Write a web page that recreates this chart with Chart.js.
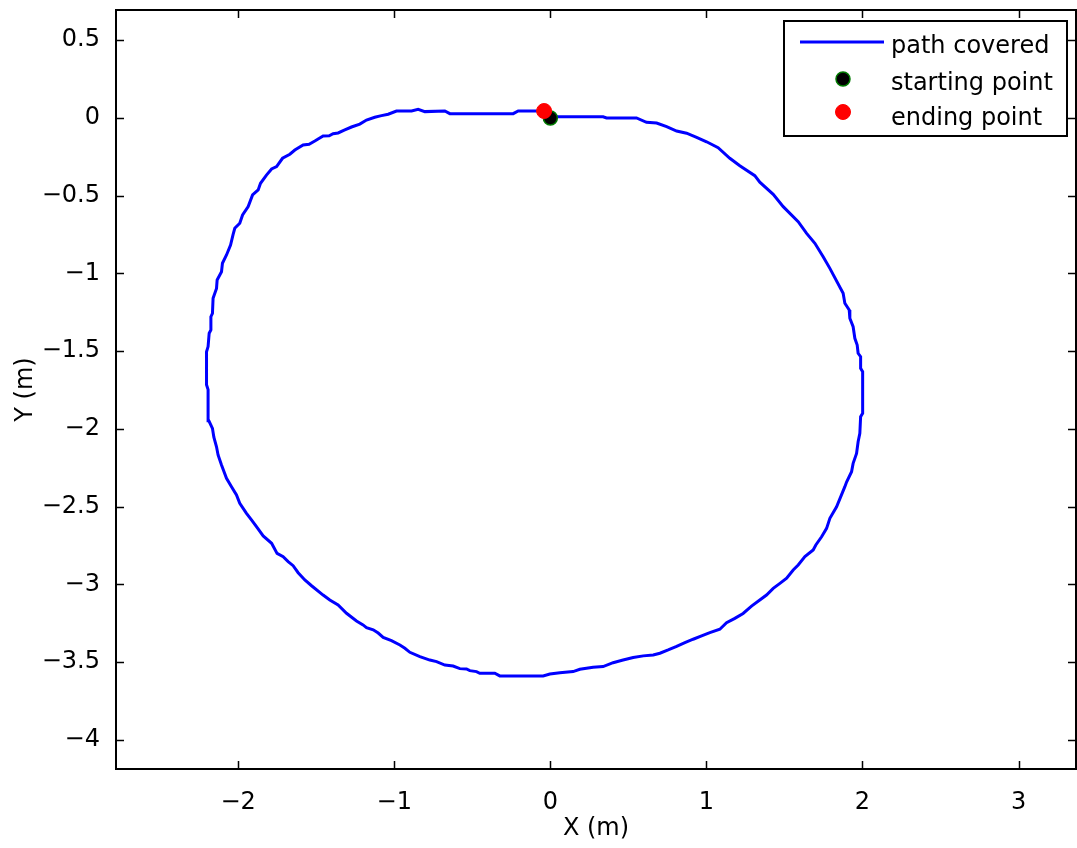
<!DOCTYPE html>
<html>
<head>
<meta charset="utf-8">
<title>path covered</title>
<script src="https://cdn.jsdelivr.net/npm/chart.js@4.4.1/dist/chart.umd.min.js"></script>
<style>
  html, body { margin: 0; padding: 0; background: #fff; overflow: hidden; }
  #wrap { width: 1077px; height: 848px; }
  canvas { display: block; }
</style>
</head>
<body>
<div id="wrap"><canvas id="c" width="1077" height="848" style="width:1077px;height:848px"></canvas></div>
<script>
// Robot trajectory (metres), in travel order from start to end
const pathX = [0, 0.01, 0.338, 0.36, 0.552, 0.616, 0.681, 0.745, 0.809, 0.873,
  0.937, 1.001, 1.075, 1.15, 1.214, 1.31, 1.342, 1.428, 1.492, 1.588,
  1.642, 1.695, 1.748, 1.791, 1.876, 1.887, 1.915, 1.919, 1.94, 1.951,
  1.966, 1.972, 1.988, 1.988, 2.001, 2.001, 1.988, 1.983, 1.972, 1.962,
  1.94, 1.93, 1.898, 1.887, 1.834, 1.791, 1.77, 1.738, 1.701, 1.684,
  1.631, 1.588, 1.556, 1.514, 1.471, 1.428, 1.385, 1.342, 1.289, 1.235,
  1.182, 1.129, 1.086, 1.022, 0.969, 0.915, 0.862, 0.809, 0.755, 0.702,
  0.659, 0.595, 0.531, 0.466, 0.402, 0.338, 0.274, 0.189, 0.146, 0.061,
  -0.003, -0.046, -0.324, -0.356, -0.452, -0.473, -0.516, -0.537, -0.58, -0.623,
  -0.676, -0.729, -0.772, -0.836, -0.9, -0.932, -0.964, -1.018, -1.071, -1.103,
  -1.135, -1.178, -1.2, -1.242, -1.306, -1.36, -1.413, -1.456, -1.53, -1.573,
  -1.616, -1.648, -1.68, -1.712, -1.751, -1.786, -1.84, -1.883, -1.915, -1.947,
  -1.99, -2.011, -2.043, -2.075, -2.107, -2.129, -2.139, -2.156, -2.165, -2.188,
  -2.193, -2.203, -2.203, -2.193, -2.186, -2.175, -2.175, -2.165, -2.161, -2.139,
  -2.135, -2.107, -2.101, -2.075, -2.049, -2.033, -2.022, -1.99, -1.972, -1.936,
  -1.908, -1.872, -1.857, -1.819, -1.786, -1.754, -1.716, -1.669, -1.637, -1.584,
  -1.546, -1.509, -1.456, -1.417, -1.392, -1.36, -1.317, -1.274, -1.221, -1.178,
  -1.125, -1.082, -1.039, -0.986, -0.889, -0.847, -0.804, -0.676, -0.644, -0.238,
  -0.206, -0.04];
const pathY = [0, 0.008, 0.008, 0, 0, -0.028, -0.032, -0.056, -0.084, -0.098,
  -0.124, -0.153, -0.191, -0.259, -0.307, -0.371, -0.413, -0.491, -0.57, -0.667,
  -0.742, -0.806, -0.892, -0.967, -1.127, -1.191, -1.235, -1.288, -1.342, -1.417,
  -1.46, -1.513, -1.535, -1.61, -1.632, -1.899, -1.921, -2.028, -2.082, -2.157,
  -2.221, -2.275, -2.341, -2.371, -2.5, -2.574, -2.639, -2.693, -2.746, -2.778,
  -2.821, -2.875, -2.907, -2.96, -2.993, -3.025, -3.068, -3.1, -3.139, -3.186,
  -3.218, -3.246, -3.288, -3.31, -3.331, -3.352, -3.374, -3.398, -3.421, -3.442,
  -3.453, -3.459, -3.47, -3.486, -3.503, -3.528, -3.532, -3.545, -3.56, -3.567,
  -3.576, -3.588, -3.588, -3.571, -3.571, -3.56, -3.554, -3.543, -3.541, -3.524,
  -3.518, -3.496, -3.486, -3.464, -3.436, -3.41, -3.389, -3.361, -3.34, -3.312,
  -3.291, -3.277, -3.26, -3.235, -3.185, -3.132, -3.1, -3.068, -3.008, -2.971,
  -2.924, -2.879, -2.853, -2.821, -2.8, -2.735, -2.688, -2.628, -2.585, -2.542,
  -2.478, -2.424, -2.371, -2.317, -2.231, -2.167, -2.114, -2.053, -1.996, -1.947,
  -1.747, -1.715, -1.503, -1.47, -1.384, -1.363, -1.278, -1.256, -1.16, -1.096,
  -1.042, -0.989, -0.934, -0.881, -0.817, -0.75, -0.709, -0.677, -0.624, -0.57,
  -0.495, -0.463, -0.42, -0.367, -0.328, -0.313, -0.259, -0.233, -0.206, -0.174,
  -0.169, -0.148, -0.116, -0.114, -0.101, -0.096, -0.077, -0.058, -0.039, -0.013,
  0.005, 0.015, 0.024, 0.045, 0.045, 0.056, 0.041, 0.045, 0.028, 0.028,
  0.045, 0.045];

const startPoint = [0, 0];
const endPoint = [-0.04, 0.045];

const seriesLabels = ['path covered', 'starting point', 'ending point'];
const xTicks = [-2, -1, 0, 1, 2, 3];
const yTicks = [0.5, 0, -0.5, -1, -1.5, -2, -2.5, -3, -3.5, -4];
const xLimits = [-2.783, 3.368];
const yLimits = [-4.1865, 0.6945];
const xTitle = 'X (m)';
const yTitle = 'Y (m)';

const FONT = "'DejaVu Sans', 'Liberation Sans', sans-serif";
Chart.defaults.font.family = FONT;
Chart.defaults.color = '#000';

// The markers sit well inside the axes, so no overflow margin is kept around the plot box
Chart.ScatterController.prototype.getMaxOverflow = () => 0;

// MATLAB-style minus sign on tick labels
const fmt = v => (v < 0 ? '\u2212' + String(-v) : String(v));

// Keep the plot box fixed: no extra room reserved for overhanging tick labels
const noOverhang = s => {
  s.paddingLeft = s.paddingRight = s.paddingTop = s.paddingBottom = 0;
  s.getPadding = () => ({ left: 0, top: 0, right: 0, bottom: 0 });
};

// Box around the axes with inward tick marks on all four sides
const axesBox = {
  id: 'axesBox',
  afterDatasetsDraw(chart) {
    const { ctx, chartArea: a, scales } = chart;
    const tl = 8;
    ctx.save();
    ctx.strokeStyle = '#000';
    ctx.lineWidth = 1.5;
    ctx.beginPath();
    scales.x.ticks.forEach(t => {
      const px = Math.round(scales.x.getPixelForValue(t.value)) + 0.5;
      ctx.moveTo(px, a.bottom); ctx.lineTo(px, a.bottom - tl);
      ctx.moveTo(px, a.top); ctx.lineTo(px, a.top + tl);
    });
    scales.y.ticks.forEach(t => {
      const py = Math.round(scales.y.getPixelForValue(t.value)) + 0.5;
      ctx.moveTo(a.left, py); ctx.lineTo(a.left + tl, py);
      ctx.moveTo(a.right, py); ctx.lineTo(a.right - tl, py);
    });
    ctx.stroke();
    ctx.lineWidth = 2;
    ctx.strokeRect(a.left, a.top, a.right - a.left, a.bottom - a.top);
    ctx.restore();
  }
};

// Boxed legend in the upper right corner of the axes
const boxLegend = {
  id: 'boxLegend',
  afterDraw(chart) {
    const ctx = chart.ctx;
    const bx = 784, by = 21, bw = 283, bh = 115;
    const rows = [42, 79, 112];
    const baselines = [53, 90, 125];
    ctx.save();
    ctx.fillStyle = '#fff';
    ctx.fillRect(bx, by, bw, bh);
    ctx.strokeStyle = '#000';
    ctx.lineWidth = 2;
    ctx.strokeRect(bx, by, bw, bh);
    chart.data.datasets.forEach((ds, i) => {
      const cy = rows[i];
      if (ds.showLine) {
        ctx.strokeStyle = ds.borderColor;
        ctx.lineWidth = ds.borderWidth;
        ctx.beginPath();
        ctx.moveTo(800, cy); ctx.lineTo(884, cy);
        ctx.stroke();
      } else {
        ctx.beginPath();
        ctx.arc(843, cy, ds.pointRadius, 0, Math.PI * 2);
        ctx.fillStyle = ds.pointBackgroundColor;
        ctx.fill();
        ctx.lineWidth = ds.pointBorderWidth;
        ctx.strokeStyle = ds.pointBorderColor;
        ctx.stroke();
      }
      ctx.fillStyle = '#000';
      ctx.font = '24px ' + FONT;
      ctx.textAlign = 'left';
      ctx.textBaseline = 'alphabetic';
      ctx.fillText(ds.label, 891, baselines[i]);
    });
    ctx.restore();
  }
};

const toPoints = (xs, ys) => xs.map((x, i) => ({ x, y: ys[i] }));

new Chart(document.getElementById('c'), {
  type: 'scatter',
  data: {
    datasets: [
      {
        label: seriesLabels[0],
        data: toPoints(pathX, pathY),
        showLine: true,
        borderColor: '#0000ff',
        borderWidth: 3,
        pointRadius: 0,
        tension: 0,
        fill: false,
        order: 3
      },
      {
        label: seriesLabels[1],
        data: [{ x: startPoint[0], y: startPoint[1] }],
        showLine: false,
        pointRadius: 7,
        pointBackgroundColor: '#000000',
        pointBorderColor: '#007a00',
        pointBorderWidth: 1.5,
        order: 2
      },
      {
        label: seriesLabels[2],
        data: [{ x: endPoint[0], y: endPoint[1] }],
        showLine: false,
        pointRadius: 7.5,
        pointBackgroundColor: '#ff0000',
        pointBorderColor: '#ff0000',
        pointBorderWidth: 1,
        order: 1
      }
    ]
  },
  options: {
    responsive: false,
    animation: false,
    events: [],
    layout: { padding: { top: 10, right: 1, left: 0, bottom: 0 } },
    plugins: { legend: { display: false }, tooltip: { enabled: false } },
    scales: {
      x: {
        type: 'linear',
        position: 'bottom',
        min: xLimits[0],
        max: xLimits[1],
        grid: { display: false },
        border: { display: false },
        afterBuildTicks: s => { s.ticks = xTicks.map(v => ({ value: v })); },
        afterFit: s => { s.height = 79; noOverhang(s); },
        ticks: {
          font: { size: 24 },
          color: '#000',
          padding: 11,
          maxRotation: 0,
          callback: v => fmt(v)
        },
        title: {
          display: true,
          text: xTitle,
          font: { size: 24 },
          color: '#000',
          padding: { top: 0, bottom: 5 }
        }
      },
      y: {
        type: 'linear',
        position: 'left',
        min: yLimits[0],
        max: yLimits[1],
        grid: { display: false },
        border: { display: false },
        afterBuildTicks: s => { s.ticks = yTicks.map(v => ({ value: v })); },
        afterFit: s => { s.width = 116; noOverhang(s); },
        ticks: {
          font: { size: 24 },
          color: '#000',
          padding: 8,
          callback: v => fmt(v)
        },
        title: {
          display: true,
          text: yTitle,
          font: { size: 24 },
          color: '#000',
          padding: { top: 11, bottom: 0 }
        }
      }
    }
  },
  plugins: [axesBox, boxLegend]
});
</script>
</body>
</html>
